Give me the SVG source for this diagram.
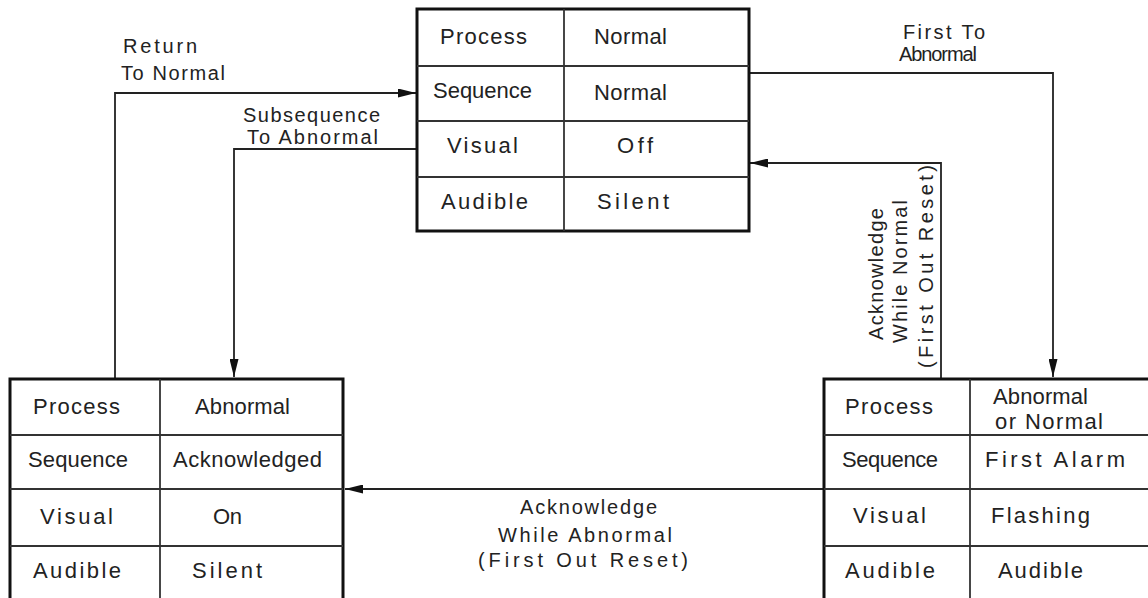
<svg xmlns="http://www.w3.org/2000/svg" width="1148" height="598" viewBox="0 0 1148 598">
  <style>
    .frame { fill: #fff; stroke: #111; stroke-width: 3; }
    .grid { stroke: #333; stroke-width: 1.8; fill: none; }
    .cell { font-family: "Liberation Sans", Arial, sans-serif; font-size: 22px; fill: #222; }
    .lbl { font-family: "Liberation Sans", Arial, sans-serif; font-size: 20px; fill: #222; }
    .wire { stroke: #222; stroke-width: 1.8; fill: none; marker-end: url(#arrow); }
  </style>
  <defs>
    <marker id="arrow" markerUnits="userSpaceOnUse" markerWidth="18" markerHeight="9" refX="18" refY="4.5" orient="auto">
      <path d="M0,0 L18,4.5 L0,9 z" fill="#111"/>
    </marker>
  </defs>
  <rect width="1148" height="598" fill="#fff"/>

  <!-- transitions between states -->
  <g id="connectors">
    <path class="wire" d="M115 379 V93 H416"/>
    <path class="wire" d="M417 149 H234 V377"/>
    <path class="wire" d="M749 73 H1053 V377"/>
    <path class="wire" d="M941 379 V163 H750"/>
    <path class="wire" d="M824 489 H345"/>

    <text class="lbl" x="123" y="53" textLength="74" lengthAdjust="spacing">Return</text>
    <text class="lbl" x="121" y="80" textLength="104" lengthAdjust="spacing">To Normal</text>
    <text class="lbl" x="243" y="122" textLength="137" lengthAdjust="spacing">Subsequence</text>
    <text class="lbl" x="247" y="144" textLength="131" lengthAdjust="spacing">To Abnormal</text>
    <text class="lbl" x="903" y="39" textLength="82" lengthAdjust="spacing">First To</text>
    <text class="lbl" x="899" y="61" textLength="78" lengthAdjust="spacing">Abnormal</text>
    <text class="lbl" x="520" y="514" textLength="137" lengthAdjust="spacing">Acknowledge</text>
    <text class="lbl" x="498" y="542" textLength="174" lengthAdjust="spacing">While Abnormal</text>
    <text class="lbl" x="478" y="567" textLength="210" lengthAdjust="spacing">(First Out Reset)</text>
    <text class="lbl" transform="translate(883,340) rotate(-90)" textLength="132" lengthAdjust="spacing">Acknowledge</text>
    <text class="lbl" transform="translate(907,343) rotate(-90)" textLength="143" lengthAdjust="spacing">While Normal</text>
    <text class="lbl" transform="translate(933,368) rotate(-90)" textLength="203" lengthAdjust="spacing">(First Out Reset)</text>
  </g>

  <!-- normal state -->
  <g id="state-normal">
    <rect class="frame" x="417" y="9" width="332" height="222"/>
    <path class="grid" d="M564 9 V231 M417 66 H749 M417 121 H749 M417 177 H749"/>
    <text class="cell" x="440" y="44" textLength="87" lengthAdjust="spacing">Process</text>
    <text class="cell" x="594" y="44" textLength="73" lengthAdjust="spacing">Normal</text>
    <text class="cell" x="433" y="98" textLength="99" lengthAdjust="spacing">Sequence</text>
    <text class="cell" x="594" y="100" textLength="73" lengthAdjust="spacing">Normal</text>
    <text class="cell" x="447" y="153" textLength="71" lengthAdjust="spacing">Visual</text>
    <text class="cell" x="617" y="153" textLength="36" lengthAdjust="spacing">Off</text>
    <text class="cell" x="441" y="209" textLength="87" lengthAdjust="spacing">Audible</text>
    <text class="cell" x="597" y="209" textLength="72" lengthAdjust="spacing">Silent</text>
  </g>

  <!-- acknowledged state -->
  <g id="state-acknowledged">
    <rect class="frame" x="10" y="379" width="333" height="230"/>
    <path class="grid" d="M160 379 V609 M10 435 H343 M10 489 H343 M10 546 H343"/>
    <text class="cell" x="33" y="414" textLength="87" lengthAdjust="spacing">Process</text>
    <text class="cell" x="195" y="414" textLength="95" lengthAdjust="spacing">Abnormal</text>
    <text class="cell" x="28" y="467" textLength="100" lengthAdjust="spacing">Sequence</text>
    <text class="cell" x="173" y="467" textLength="149" lengthAdjust="spacing">Acknowledged</text>
    <text class="cell" x="40" y="524" textLength="73" lengthAdjust="spacing">Visual</text>
    <text class="cell" x="213" y="524" textLength="29" lengthAdjust="spacing">On</text>
    <text class="cell" x="33" y="578" textLength="88" lengthAdjust="spacing">Audible</text>
    <text class="cell" x="192" y="578" textLength="70" lengthAdjust="spacing">Silent</text>
  </g>

  <!-- first alarm state -->
  <g id="state-first-alarm">
    <rect class="frame" x="824" y="379" width="340" height="230"/>
    <path class="grid" d="M970 379 V609 M824 435 H1164 M824 489 H1164 M824 546 H1164"/>
    <text class="cell" x="845" y="414" textLength="88" lengthAdjust="spacing">Process</text>
    <text class="cell" x="993" y="404" textLength="95" lengthAdjust="spacing">Abnormal</text>
    <text class="cell" x="995" y="429" textLength="108" lengthAdjust="spacing">or Normal</text>
    <text class="cell" x="842" y="467" textLength="96" lengthAdjust="spacing">Sequence</text>
    <text class="cell" x="985" y="467" textLength="140" lengthAdjust="spacing">First Alarm</text>
    <text class="cell" x="853" y="523" textLength="73" lengthAdjust="spacing">Visual</text>
    <text class="cell" x="991" y="523" textLength="99" lengthAdjust="spacing">Flashing</text>
    <text class="cell" x="845" y="578" textLength="90" lengthAdjust="spacing">Audible</text>
    <text class="cell" x="998" y="578" textLength="85" lengthAdjust="spacing">Audible</text>
  </g>
</svg>
